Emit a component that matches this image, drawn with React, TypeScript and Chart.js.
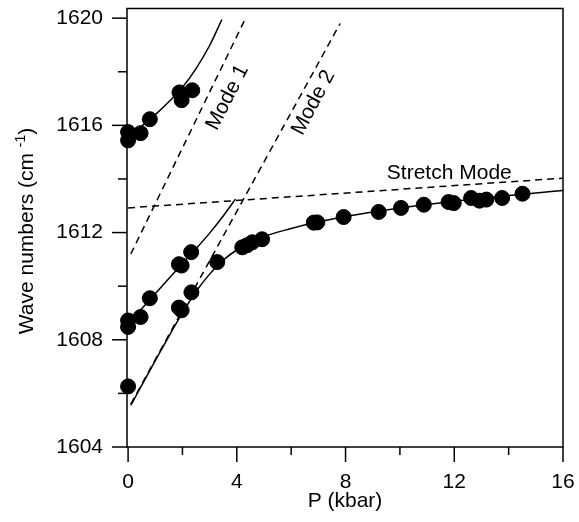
import React, { useEffect, useRef } from "react";
import { Chart, registerables } from "chart.js";

Chart.register(...registerables);

// ---- Data ----
const UPPER_P = [0, 0, 0.46, 0.8, 1.89, 1.97, 2.36];
const UPPER_W = [1615.75, 1615.44, 1615.71, 1616.23, 1617.23, 1616.94, 1617.31];

const MIDDLE_P = [0, 0, 0.46, 0.8, 1.87, 1.97, 2.32];
const MIDDLE_W = [1608.72, 1608.48, 1608.85, 1609.55, 1610.82, 1610.77, 1611.27];

const LOWER_P = [0, 1.87, 1.97, 2.33, 3.28, 4.2, 4.38, 4.57, 4.93, 6.83, 6.96, 7.93, 9.22, 10.04, 10.88, 11.79, 11.98, 12.62, 12.93, 13.18, 13.76, 14.51];
const LOWER_W = [1606.26, 1609.2, 1609.1, 1609.77, 1610.9, 1611.45, 1611.53, 1611.64, 1611.75, 1612.37, 1612.38, 1612.58, 1612.77, 1612.92, 1613.04, 1613.14, 1613.1, 1613.29, 1613.19, 1613.23, 1613.29, 1613.45];

const UPPER_FIT_P = [0, 0.5, 1.0, 1.5, 2.0, 2.5, 3.0, 3.45];
const UPPER_FIT_W = [1615.6, 1615.97, 1616.4, 1616.88, 1617.42, 1618.12, 1618.98, 1619.95];

const MIDDLE_FIT_P = [0, 1, 2, 2.5, 3, 3.5, 3.95];
const MIDDLE_FIT_W = [1608.6, 1609.72, 1610.85, 1611.4, 1611.98, 1612.62, 1613.25];

const LOWER_FIT_P = [0.1, 0.5, 1, 1.5, 2, 2.5, 3, 3.5, 4, 5, 6, 7, 8, 9, 10, 11, 12, 13, 14, 15, 16];
const LOWER_FIT_W = [1605.55, 1606.3, 1607.22, 1608.13, 1609.0, 1609.8, 1610.45, 1610.97, 1611.35, 1611.85, 1612.15, 1612.4, 1612.6, 1612.77, 1612.92, 1613.05, 1613.17, 1613.28, 1613.38, 1613.48, 1613.57];

const MODE1_P = [0.1, 4.3];
const MODE1_W = [1611.2, 1619.95];
const MODE2_P = [0.1, 7.8];
const MODE2_W = [1605.6, 1619.8];
const STRETCH_P = [0, 16];
const STRETCH_W = [1612.92, 1614.03];

const X_MAJOR = [0, 4, 8, 12, 16];
const X_MINOR = [2, 6, 10, 14];
const Y_MAJOR = [1604, 1608, 1612, 1616, 1620];
const Y_MINOR = [1606, 1610, 1614, 1618];

const X_TITLE = "P (kbar)";
const Y_TITLE = "Wave numbers (cm ";
const Y_TITLE_SUP = "-1";
const Y_TITLE_END = ")";

const ANNOTATIONS = [
  { text: "Mode 1", x: 3.66, y: 1617.04, angle: -63, align: "center" },
  { text: "Mode 2", x: 6.82, y: 1616.85, angle: -62, align: "center" },
  { text: "Stretch Mode", x: 9.52, y: 1613.99, angle: 0, align: "left" },
];

const FONT = "'Liberation Sans', Arial, sans-serif";

const pts = (xs: number[], ys: number[]) => xs.map((x, i) => ({ x, y: ys[i] }));

const overlay = {
  id: "overlay",
  afterDraw(chart: any) {
    const { ctx, chartArea: a } = chart;
    const xs = chart.scales.x;
    const ys = chart.scales.y;
    ctx.save();
    ctx.strokeStyle = "#000";
    ctx.fillStyle = "#000";
    ctx.lineWidth = 1.5;
    ctx.strokeRect(a.left, a.top, a.right - a.left, a.bottom - a.top);
    const tick = (x1: number, y1: number, x2: number, y2: number) => {
      ctx.beginPath();
      ctx.moveTo(x1, y1);
      ctx.lineTo(x2, y2);
      ctx.stroke();
    };
    X_MAJOR.forEach((v) => { const p = xs.getPixelForValue(v); tick(p, a.bottom, p, a.bottom + 15); });
    X_MINOR.forEach((v) => { const p = xs.getPixelForValue(v); tick(p, a.bottom, p, a.bottom + 8); });
    Y_MAJOR.forEach((v) => { const p = ys.getPixelForValue(v); tick(a.left, p, a.left - 15, p); });
    Y_MINOR.forEach((v) => { const p = ys.getPixelForValue(v); tick(a.left, p, a.left - 9, p); });

    // x title
    ctx.font = `21px ${FONT}`;
    ctx.textAlign = "center";
    ctx.textBaseline = "alphabetic";
    ctx.fillText(X_TITLE, (a.left + a.right) / 2, 507);

    // y title with superscript
    ctx.save();
    const mainFont = `21px ${FONT}`;
    const supFont = `14px ${FONT}`;
    ctx.font = mainFont;
    const w1 = ctx.measureText(Y_TITLE).width;
    const w3 = ctx.measureText(Y_TITLE_END).width;
    ctx.font = supFont;
    const w2 = ctx.measureText(Y_TITLE_SUP).width;
    const total = w1 + w2 + w3;
    const cy = 231;
    ctx.translate(33, cy + total / 2);
    ctx.rotate(-Math.PI / 2);
    ctx.textAlign = "left";
    ctx.font = mainFont;
    ctx.fillText(Y_TITLE, 0, 0);
    ctx.font = supFont;
    ctx.fillText(Y_TITLE_SUP, w1, -8);
    ctx.font = mainFont;
    ctx.fillText(Y_TITLE_END, w1 + w2, 0);
    ctx.restore();

    // annotations
    ANNOTATIONS.forEach((an) => {
      ctx.save();
      ctx.font = `21px ${FONT}`;
      ctx.translate(xs.getPixelForValue(an.x), ys.getPixelForValue(an.y));
      ctx.rotate((an.angle * Math.PI) / 180);
      ctx.textAlign = an.align as CanvasTextAlign;
      ctx.textBaseline = an.angle === 0 ? "alphabetic" : "middle";
      ctx.fillText(an.text, 0, 0);
      ctx.restore();
    });
    ctx.restore();
  },
};

export default function App() {
  const ref = useRef<HTMLCanvasElement | null>(null);
  useEffect(() => {
    if (!ref.current) return;
    const solid = { borderColor: "#000", borderWidth: 1.5, pointRadius: 0, showLine: true, fill: false, cubicInterpolationMode: "monotone" as const, order: 2 };
    const dashed = { borderColor: "#000", borderWidth: 1.5, pointRadius: 0, showLine: true, fill: false, borderDash: [7, 5], order: 2 };
    const chart = new Chart(ref.current, {
      type: "scatter",
      data: {
        datasets: [
          {
            data: [...pts(UPPER_P, UPPER_W), ...pts(MIDDLE_P, MIDDLE_W), ...pts(LOWER_P, LOWER_W)],
            backgroundColor: "#000",
            borderColor: "#000",
            pointRadius: 7.5,
            pointHoverRadius: 7.5,
            showLine: false,
            clip: false,
            order: 0,
          } as any,
          { ...solid, data: pts(UPPER_FIT_P, UPPER_FIT_W) } as any,
          { ...solid, data: pts(MIDDLE_FIT_P, MIDDLE_FIT_W) } as any,
          { ...solid, data: pts(LOWER_FIT_P, LOWER_FIT_W) } as any,
          { ...dashed, data: pts(MODE1_P, MODE1_W) } as any,
          { ...dashed, data: pts(MODE2_P, MODE2_W) } as any,
          { ...dashed, data: pts(STRETCH_P, STRETCH_W) } as any,
        ],
      },
      options: {
        responsive: false,
        animation: false,
        devicePixelRatio: 1,
        layout: { padding: { top: 3, right: 16, left: 0, bottom: 0 } },
        plugins: { legend: { display: false }, tooltip: { enabled: false } },
        events: [],
        scales: {
          x: {
            type: "linear",
            min: -0.04,
            max: 16,
            grid: { display: false },
            border: { display: false },
            afterBuildTicks: (s: any) => { s.ticks = X_MAJOR.map((v) => ({ value: v })); },
            afterFit: (s: any) => { s.height = 75; s.paddingLeft = 0; s.paddingRight = 0; s.paddingTop = 0; s.paddingBottom = 0; },
            ticks: { color: "#000", font: { family: FONT, size: 21 }, padding: 15, maxRotation: 0, callback: (v: any) => String(v) },
          },
          y: {
            type: "linear",
            min: 1604,
            max: 1620.36,
            grid: { display: false },
            border: { display: false },
            afterBuildTicks: (s: any) => { s.ticks = Y_MAJOR.map((v) => ({ value: v })); },
            afterFit: (s: any) => { s.width = 127; s.paddingTop = 0; s.paddingBottom = 0; s.paddingLeft = 0; s.paddingRight = 0; },
            ticks: { color: "#000", font: { family: FONT, size: 21 }, padding: 16, callback: (v: any) => String(v) },
          },
        },
      },
      plugins: [overlay],
    });
    return () => chart.destroy();
  }, []);
  return (
    <div style={{ position: "fixed", left: 0, top: 0, width: 579, height: 522, background: "#fff" }}>
      <canvas ref={ref} width={579} height={522} />
    </div>
  );
}
